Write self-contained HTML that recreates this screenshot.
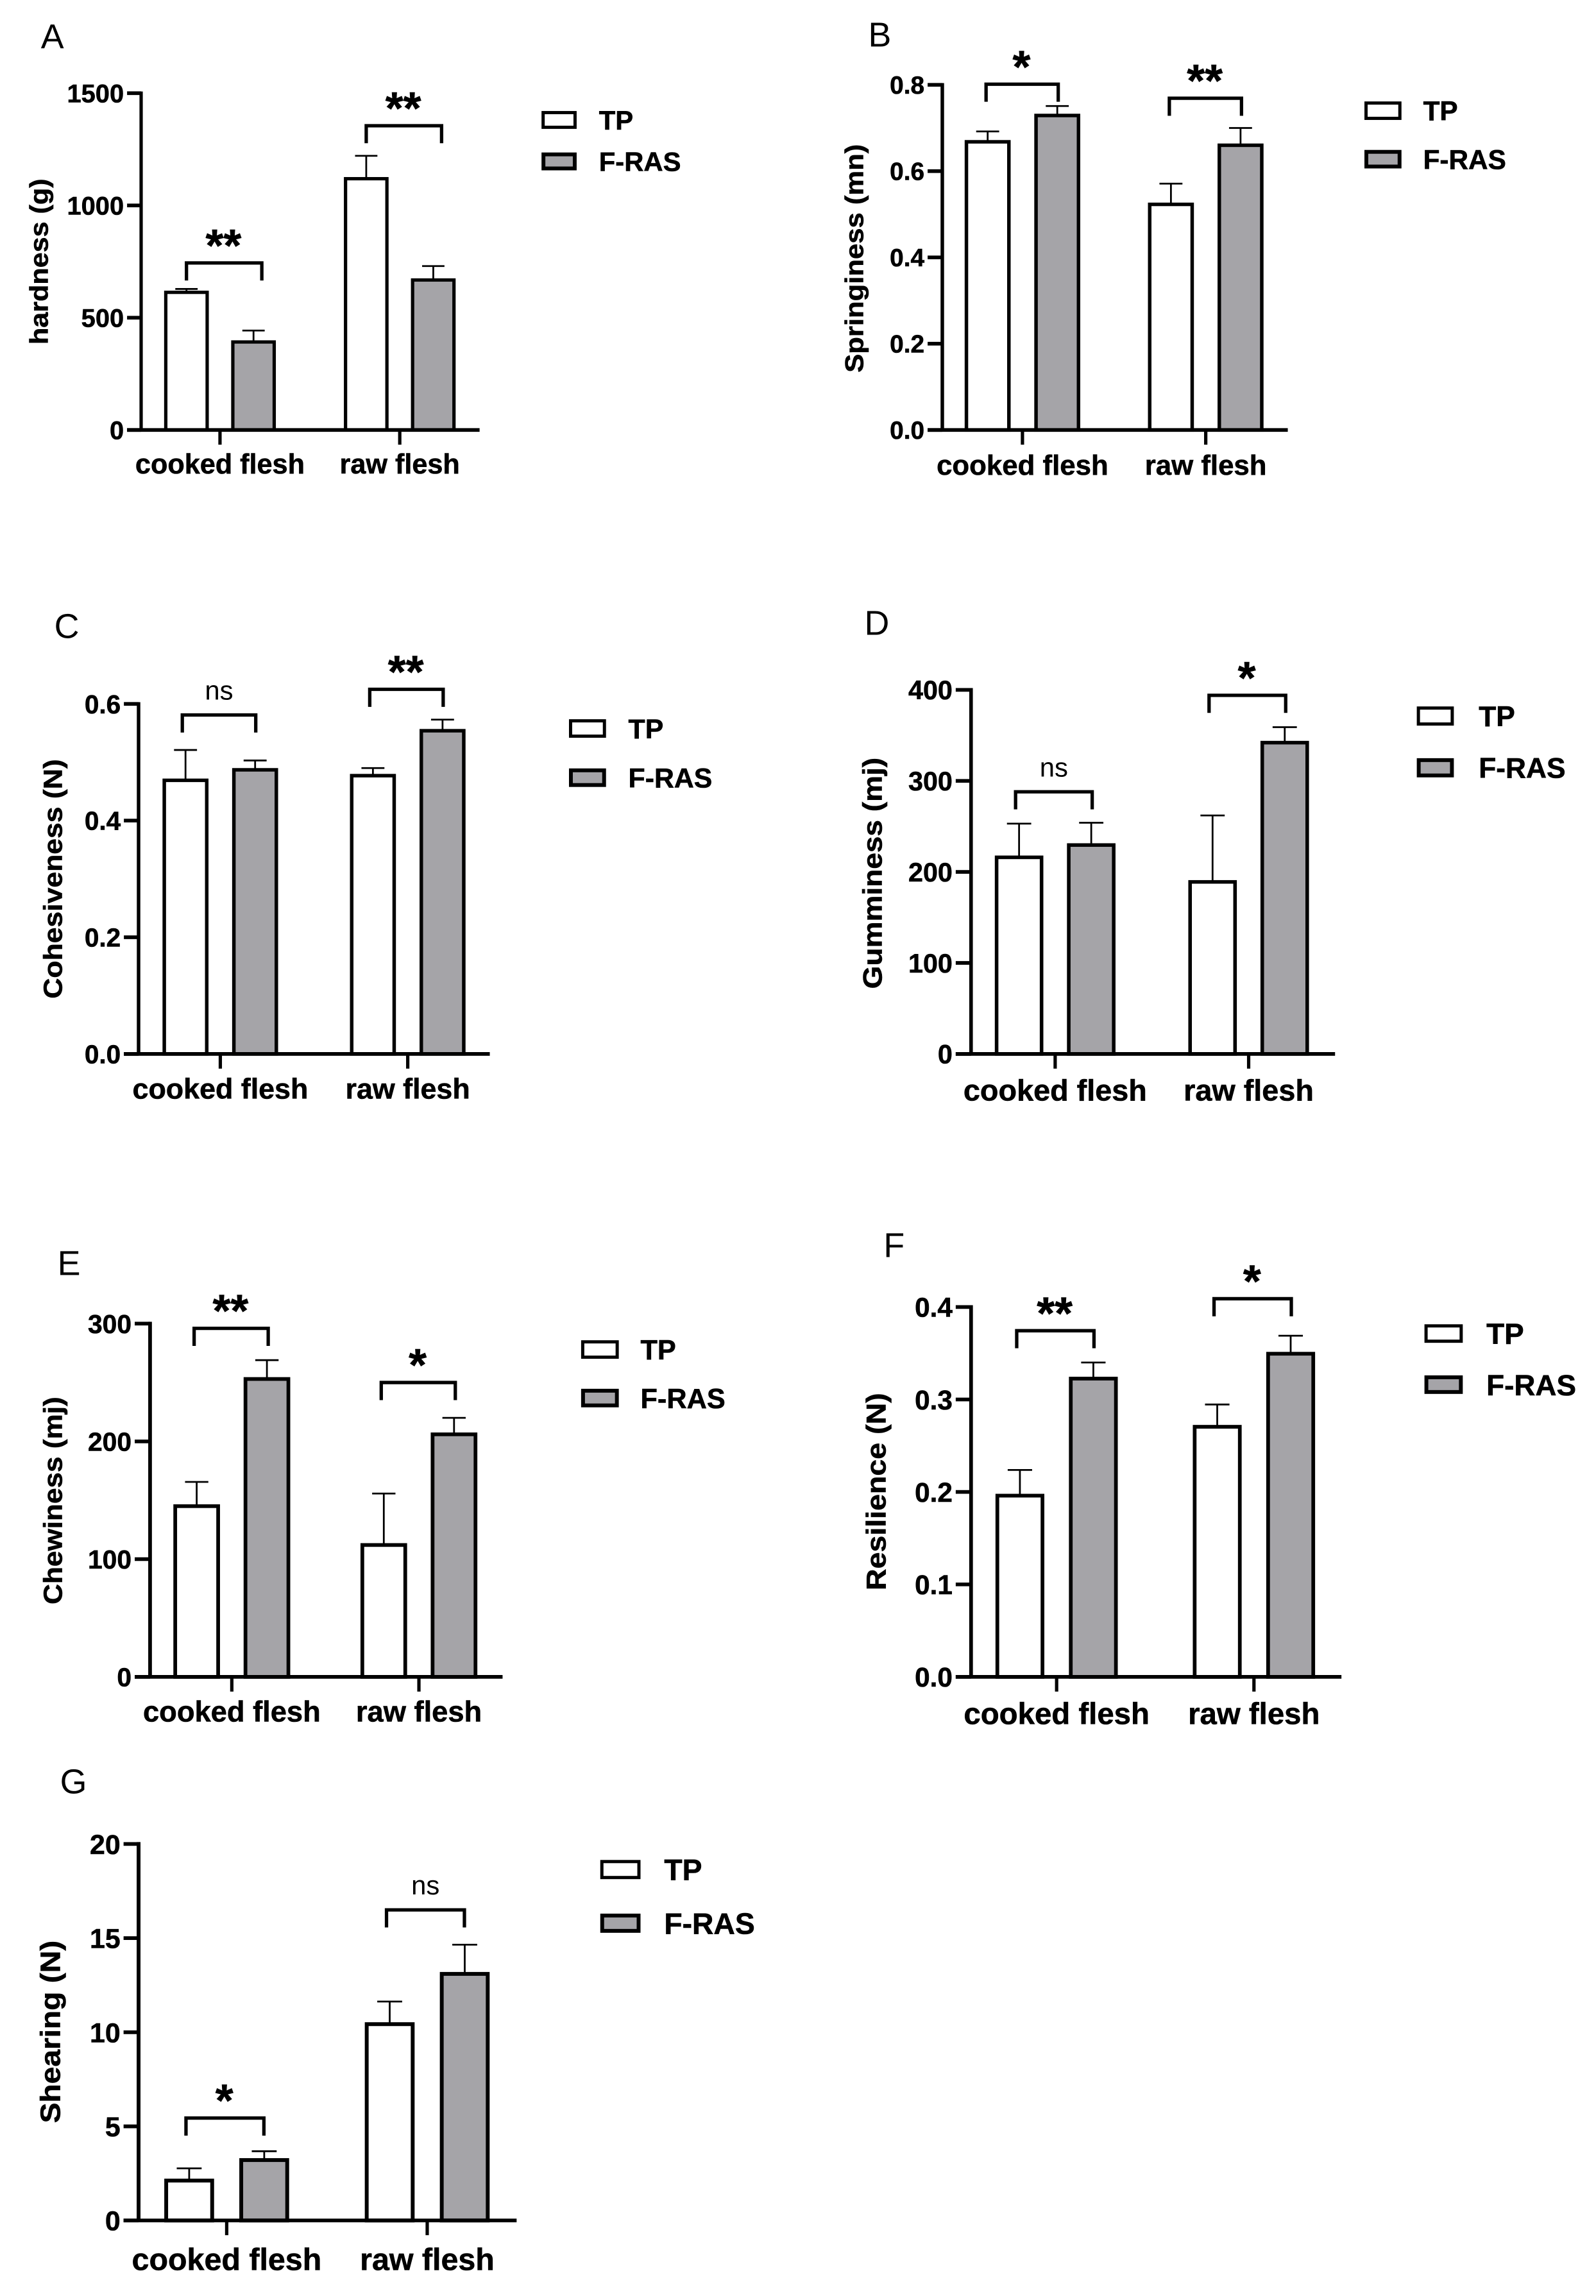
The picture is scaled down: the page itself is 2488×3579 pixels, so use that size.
<!DOCTYPE html>
<html lang="en">
<head>
<meta charset="utf-8">
<title>Texture parameters of TP and F-RAS flesh</title>
<style>
html,body{margin:0;padding:0;background:#fff;}
svg{display:block;}
text{font-family:"Liberation Sans",Arial,sans-serif;fill:#000;}
text[font-weight="bold"]{stroke:#000;stroke-width:0.6px;}
</style>
</head>
<body>
<svg id="figure" xmlns="http://www.w3.org/2000/svg" width="2488" height="3579" viewBox="0 0 2488 3579"></svg>
<script>
const categories = ['cooked flesh', 'raw flesh'];
const seriesNames = ['TP', 'F-RAS'];

const hardnessTicks = ['0', '500', '1000', '1500'];
const hardnessTP = [613, 1119];
const hardnessFRAS = [392, 668];
const hardnessTPError = [15, 102];
const hardnessFRASError = [51, 62];
const hardnessBrackets = [744, 1355];
const hardnessMarks = ['**', '**'];

const springinessTicks = ['0.0', '0.2', '0.4', '0.6', '0.8'];
const springinessTP = [0.668, 0.523];
const springinessFRAS = [0.729, 0.66];
const springinessTPError = [0.024, 0.048];
const springinessFRASError = [0.022, 0.04];
const springinessBrackets = [0.8015, 0.769];
const springinessMarks = ['*', '**'];

const cohesivenessTicks = ['0.0', '0.2', '0.4', '0.6'];
const cohesivenessTP = [0.469, 0.477];
const cohesivenessFRAS = [0.487, 0.554];
const cohesivenessTPError = [0.052, 0.013];
const cohesivenessFRASError = [0.016, 0.019];
const cohesivenessBrackets = [0.581, 0.625];
const cohesivenessMarks = ['ns', '**'];

const gumminessTicks = ['0', '100', '200', '300', '400'];
const gumminessTP = [216, 189];
const gumminessFRAS = [229.5, 342];
const gumminessTPError = [37, 73];
const gumminessFRASError = [24.5, 17];
const gumminessBrackets = [288, 394];
const gumminessMarks = ['ns', '*'];

const chewinessTicks = ['0', '100', '200', '300'];
const chewinessTP = [145, 112];
const chewinessFRAS = [253, 206];
const chewinessTPError = [20.6, 43.7];
const chewinessFRASError = [16, 14];
const chewinessBrackets = [296, 250];
const chewinessMarks = ['**', '*'];

const resilienceTicks = ['0.0', '0.1', '0.2', '0.3', '0.4'];
const resilienceTP = [0.196, 0.2705];
const resilienceFRAS = [0.3226, 0.3495];
const resilienceTPError = [0.0278, 0.0241];
const resilienceFRASError = [0.0174, 0.0195];
const resilienceBrackets = [0.3744, 0.409];
const resilienceMarks = ['**', '*'];

const shearingTicks = ['0', '5', '10', '15', '20'];
const shearingTP = [2.12, 10.43];
const shearingFRAS = [3.21, 13.1];
const shearingTPError = [0.65, 1.2];
const shearingFRASError = [0.47, 1.55];
const shearingBrackets = [5.44, 16.5];
const shearingMarks = ['*', 'ns'];

const panels = [
  {id:'a', ox:0, oy:0, sy:0.9945, sw:5.2, letter:'A', lx:64, ly:76, title:'hardness (g)', tx:75, ty:410, tl:260, tf:40,
   ticks:hardnessTicks, tp:hardnessTP, fr:hardnessFRAS, tpe:hardnessTPError, fre:hardnessFRASError, br:hardnessBrackets, marks:hardnessMarks,
   ax:221, top:146, zero:674, x0:199, x1:751, c0:344.5, gap:281.5, inner:105, bw:70, bl:0, bwid:118, tickF:40, catF:43.4, catY:742,
   legX:850, legW:52, legH:26, legY:[175,240], legTx:938, legF:42},
  {id:'b', ox:1244, oy:0, sy:0.9945, sw:5.5, letter:'B', lx:1354, ly:73, title:'Springiness (mn)', tx:1346, ty:405, tl:358, tf:40,
   ticks:springinessTicks, tp:springinessTP, fr:springinessFRAS, tpe:springinessTPError, fre:springinessFRASError, br:springinessBrackets, marks:springinessMarks,
   ax:1470, top:133, zero:674, x0:1447, x1:2011, c0:1595.5, gap:287, inner:109, bw:72, bl:-2.5, bwid:113, tickF:39, catF:44, catY:744,
   legX:2133, legW:55, legH:27, legY:[160,236], legTx:2223, legF:42.5},
  {id:'c', ox:0, oy:920, sy:0.9957, sw:5.5, letter:'C', lx:85, ly:995, title:'Cohesiveness (N)', tx:97, ty:1372, tl:375, tf:41,
   ticks:cohesivenessTicks, tp:cohesivenessTP, fr:cohesivenessFRAS, tpe:cohesivenessTPError, fre:cohesivenessFRASError, br:cohesivenessBrackets, marks:cohesivenessMarks,
   ax:217, top:1098, zero:1646, x0:194, x1:767, c0:345, gap:293.5, inner:109, bw:72, bl:-5, bwid:115, tickF:40.7, catF:45, catY:1716,
   legX:893, legW:55, legH:27, legY:[1123,1200], legTx:984, legF:43},
  {id:'d', ox:1244, oy:920, sy:0.9957, sw:5.6, letter:'D', lx:1348, ly:990, title:'Gumminess (mj)', tx:1375, ty:1363, tl:362, tf:42,
   ticks:gumminessTicks, tp:gumminessTP, fr:gumminessFRAS, tpe:gumminessTPError, fre:gumminessFRASError, br:gumminessBrackets, marks:gumminessMarks,
   ax:1515, top:1076, zero:1646, x0:1491, x1:2085, c0:1646.7, gap:303, inner:113, bw:76, bl:-5.5, bwid:120, tickF:41.5, catF:47, catY:1719,
   legX:2215, legW:55, legH:28, legY:[1103,1184], legTx:2310, legF:44.5},
  {id:'e', ox:0, oy:1900, sy:0.9957, sw:5.8, letter:'E', lx:90, ly:1988, title:'Chewiness (mj)', tx:97, ty:2341, tl:325, tf:41,
   ticks:chewinessTicks, tp:chewinessTP, fr:chewinessFRAS, tpe:chewinessTPError, fre:chewinessFRASError, br:chewinessBrackets, marks:chewinessMarks,
   ax:235, top:2064, zero:2617, x0:211, x1:787, c0:363, gap:293, inner:110, bw:73, bl:-4, bwid:116, tickF:41, catF:45.5, catY:2687,
   legX:912, legW:56, legH:27, legY:[2091,2167], legTx:1003, legF:43.5},
  {id:'f', ox:1244, oy:1900, sy:0.9957, sw:5.8, letter:'F', lx:1378, ly:1960, title:'Resilience (N)', tx:1381, ty:2327, tl:309, tf:43,
   ticks:resilienceTicks, tp:resilienceTP, fr:resilienceFRAS, tpe:resilienceTPError, fre:resilienceFRASError, br:resilienceBrackets, marks:resilienceMarks,
   ax:1515, top:2038, zero:2617, x0:1491, x1:2095, c0:1649, gap:309, inner:115, bw:76.5, bl:-5, bwid:121, tickF:42.5, catF:47.6, catY:2691,
   legX:2227, legW:57, legH:27, legY:[2066,2146], legTx:2322, legF:46},
  {id:'g', ox:0, oy:2740, sy:0.9957, sw:6, letter:'G', lx:94, ly:2796, title:'Shearing (N)', tx:94, ty:3169, tl:286, tf:44,
   ticks:shearingTicks, tp:shearingTP, fr:shearingFRAS, tpe:shearingTPError, fre:shearingFRASError, br:shearingBrackets, marks:shearingMarks,
   ax:217, top:2875, zero:3464.4, x0:193.5, x1:809, c0:355, gap:314, inner:117.5, bw:78, bl:-5, bwid:122, tickF:43, catF:48.6, catY:3542,
   legX:942, legW:60, legH:28, legY:[2901,2985], legTx:1040, legF:46.5}
];

const NS = 'http://www.w3.org/2000/svg';
const fig = document.getElementById('figure');
const GREY = '#a5a4a8';
const SX = 0.9955;

function mk(parent, tag, attrs, txt) {
  const el = document.createElementNS(NS, tag);
  for (const k in attrs) el.setAttribute(k, attrs[k]);
  if (txt !== undefined) el.textContent = txt;
  parent.appendChild(el);
  return el;
}

function drawPanel(p) {
  const g = mk(fig, 'g', {
    transform: 'translate(' + p.ox + ',' + p.oy + ') scale(' + SX + ',' + p.sy + ') translate(' + (-p.ox) + ',' + (-p.oy) + ')'
  });
  
  

  const yMax = parseFloat(p.ticks[p.ticks.length - 1]);
  const yScale = v => p.zero - (v / yMax) * (p.zero - p.top);
  const groupX = i => p.c0 + i * p.gap;
  const barX = (i, s) => groupX(i) + (s === 0 ? -1 : 1) * p.inner / 2;
  const cap = p.bw / 4;

  const letter = mk(g, 'text', {x: p.lx, y: p.ly, 'font-size': 54}, p.letter);
  
  

  const title = mk(g, 'text', {
    transform: 'translate(' + p.tx + ',' + p.ty + ') rotate(-90)',
    'text-anchor': 'middle', 'font-size': p.tf, 'font-weight': 'bold',
    textLength: p.tl, lengthAdjust: 'spacingAndGlyphs'
  }, p.title);
  
  

  [0, 1].forEach(i => {
    const tpBar = mk(g, 'g', {});
    
    
    const frBar = mk(g, 'g', {});
    
    
    [[tpBar, p.tp[i], p.tpe[i], 0, '#ffffff'], [frBar, p.fr[i], p.fre[i], 1, GREY]].forEach(d => {
      const cx = barX(i, d[3]);
      const yv = yScale(d[1]);
      const ye = yScale(d[1] + d[2]);
      mk(d[0], 'line', {x1: cx, x2: cx, y1: yv, y2: ye, stroke: '#000', 'stroke-width': 2.8});
      mk(d[0], 'line', {x1: cx - cap, x2: cx + cap, y1: ye, y2: ye, stroke: '#000', 'stroke-width': 2.8});
      mk(d[0], 'rect', {x: cx - p.bw / 2 + p.sw / 2, y: yv, width: p.bw - p.sw, height: p.zero - yv,
        fill: d[4], stroke: '#000', 'stroke-width': p.sw});
    });
  });

  const yAxis = mk(g, 'line', {x1: p.ax, x2: p.ax, y1: p.top - p.sw / 2, y2: p.zero, stroke: '#000', 'stroke-width': p.sw});
  
  
  const xAxis = mk(g, 'line', {x1: p.x0, x2: p.x1, y1: p.zero, y2: p.zero, stroke: '#000', 'stroke-width': 5.8});
  
  

  p.ticks.forEach(t => {
    const y = yScale(parseFloat(t));
    const mark = mk(g, 'line', {x1: p.x0, x2: p.ax, y1: y, y2: y, stroke: '#000', 'stroke-width': 5.8});
    
    
    const lab = mk(g, 'text', {x: p.x0 - 5, y: y + p.tickF * 0.36, 'text-anchor': 'end',
      'font-size': p.tickF, 'font-weight': 'bold'}, t);
    
    
  });

  categories.forEach((c, i) => {
    const x = groupX(i);
    const mark = mk(g, 'line', {x1: x, x2: x, y1: p.zero, y2: p.zero + 23, stroke: '#000', 'stroke-width': 5.2});
    
    
    const lab = mk(g, 'text', {x: x, y: p.catY, 'text-anchor': 'middle', 'font-size': p.catF, 'font-weight': 'bold'}, c);
    
    

    const left = barX(i, 0) + p.bl;
    const right = left + p.bwid;
    const by = yScale(p.br[i]);
    const bracket = mk(g, 'path', {
      d: 'M' + left + ' ' + (by + 27.5) + 'V' + by + 'H' + right + 'V' + (by + 27.5),
      fill: 'none', stroke: '#000', 'stroke-width': 5.3
    });
    
    

    const m = p.marks[i];
    const mid = (left + right) / 2;
    const note = m === 'ns'
      ? mk(g, 'text', {x: mid, y: by - 24, 'text-anchor': 'middle', 'font-size': 42}, m)
      : mk(g, 'text', {x: mid - 1, y: by - 3, 'text-anchor': 'middle', 'font-size': 72, 'font-weight': 'bold'}, m);
    
    
  });

  seriesNames.forEach((s, i) => {
    const sw = i === 0 ? 5 : 6;
    const box = mk(g, 'rect', {x: p.legX - 2 + sw / 2, y: p.legY[i] - 1 + sw / 2, width: p.legW + 3 - sw, height: p.legH + 2 - sw,
      fill: i === 0 ? '#ffffff' : GREY, stroke: '#000', 'stroke-width': sw});
    
    
    const lab = mk(g, 'text', {x: p.legTx, y: p.legY[i] + p.legH / 2 + p.legF * 0.36,
      'font-size': p.legF, 'font-weight': 'bold'}, s);
    
    
  });
}

panels.forEach(drawPanel);
</script>
</body>
</html>
